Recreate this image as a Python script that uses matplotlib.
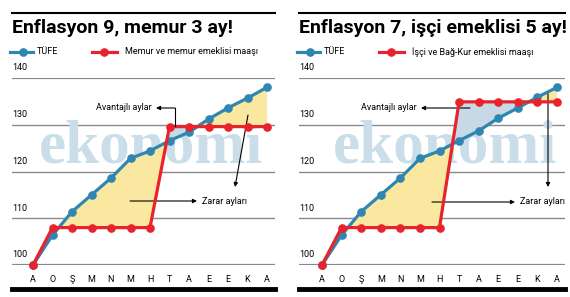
import numpy as np
import matplotlib.pyplot as plt

# aylar ve veriler
months = ['A', 'O', 'Ş', 'M', 'N', 'M', 'H', 'T', 'A', 'E', 'E', 'K', 'A']
tufe_left = [100, 106.4, 111.4, 115, 118.6, 122.8, 124.4, 126.6, 128.4, 131.2, 133.6, 135.7, 138.0]
memur = [100, 108, 108, 108, 108, 108, 108, 129.6, 129.6, 129.6, 129.6, 129.6, 129.6]
tufe_right = [100, 106.4, 111.4, 115, 118.6, 122.8, 124.4, 126.6, 128.7, 131.4, 133.6, 135.9, 138.0]
isci = [100, 108, 108, 108, 108, 108, 108, 134.9, 134.9, 134.9, 134.9, 134.9, 134.9]
yticks = [100, 110, 120, 130, 140]

titles = ['Enflasyon 9, memur 3 ay!', 'Enflasyon 7, işçi emeklisi 5 ay!']
legend_red = ['Memur ve memur emeklisi maaşı', 'İşçi ve Bağ-Kur emeklisi maaşı']

BLUE = '#2f86b0'
RED = '#e8232b'
YELLOW = '#fbe8a0'
LBLUE = '#c6d9e4'
WM = '#c9dee9'
FONT = ['Roboto', 'DejaVu Sans']

W, H = 570, 297
fig = plt.figure(figsize=(5.7, 2.97), dpi=100)


def px(x, y):
    return x / W, 1 - y / H


def arrow(p0, p1):
    fig.add_artist(plt.Line2D([0], [0], visible=False))
    ann = plt.annotate('', xy=px(*p1), xytext=px(*p0), xycoords='figure fraction',
                       textcoords='figure fraction',
                       arrowprops=dict(arrowstyle='-|>', color='black', lw=0.8,
                                       mutation_scale=6, shrinkA=0, shrinkB=0))
    return ann


def hline(xa, xb, y, **kw):
    fig.add_artist(plt.Line2D([px(xa, 0)[0], px(xb, 0)[0]], [px(0, y)[1]] * 2,
                              transform=fig.transFigure, **kw))


def panel(x0, x1, xa, xb, tufe, red, title, red_label, annots, wm_x):
    # axes spans gridline extent; y 100 at pixel 265, 140 at 78
    step = (xb - xa) / 12
    left, bottom = px(x0, 265)
    ax = fig.add_axes([left, bottom, (x1 - x0) / W, (265 - 78) / H])
    ax.set_xlim((x0 - xa) / step, (x1 - xa) / step)
    ax.set_ylim(100, 140)
    ax.axis('off')

    x = np.arange(len(months))
    tufe = np.array(tufe)
    red = np.array(red)

    for v in yticks:
        ax.axhline(v, color='#8a8a8a', lw=1.6 if v in (100, 140) else 1.0, zorder=0)
        ax.text(0, v + 1.2, str(v), transform=ax.get_yaxis_transform(),
                fontsize=6.5, family=FONT, va='bottom', ha='left')

    # watermark
    ax.text(wm_x, 0.63, 'ekonomi', transform=ax.transAxes, fontsize=44,
            family='Liberation Serif', fontweight='bold', color=WM,
            ha='center', va='center', zorder=0.5, clip_on=True)

    xf = np.linspace(0, 12, 1201)
    tf = np.interp(xf, x, tufe)
    rf = np.interp(xf, x, red)
    ax.fill_between(xf, rf, tf, where=tf >= rf, color=YELLOW, lw=0, zorder=1)
    ax.fill_between(xf, rf, tf, where=rf >= tf, color=LBLUE, lw=0, zorder=1)

    ax.plot(x, tufe, color=BLUE, lw=2.3, marker='o', ms=5.2, zorder=3, clip_on=False)
    ax.plot(x, red, color=RED, lw=2.3, marker='o', ms=5.2, zorder=4, clip_on=False)

    for i, m in enumerate(months):
        ax.text(i, -15 / 187, m, transform=ax.get_xaxis_transform(),
                fontsize=6.5, family=FONT, ha='center', va='center')

    # annotations in pixel space
    (tx, ty), (ex, ey), (sx, sy), (za, zb, zy) = annots
    fig.text(*px(tx, ty), 'Avantajlı aylar', fontsize=6.5, family=FONT,
             ha='right', va='center')
    fig.add_artist(plt.Line2D([px(ex, 0)[0]] * 2, [px(0, ey)[1], px(0, ty)[1]],
                              color='black', lw=0.8, transform=fig.transFigure))
    arrow((ex, ty), (tx + 4, ty))
    arrow(sx, sy)
    arrow((za, zy), (zb, zy))
    fig.text(*px(zb + 5, zy), 'Zarar ayları', fontsize=6.5, family=FONT,
             ha='left', va='center')

    # frame lines, title, legend
    hline(x0, x1, 13, color='black', lw=1.5)
    hline(x0, x1, 289, color='black', lw=3.5)
    fig.text(*px(x0, 28), title, fontsize=14, fontweight='bold', family=FONT,
             ha='left', va='center')
    ly = px(0, 52)[1]
    hline(x0 - 2, x0 + 21, 52, color=BLUE, lw=2.3)
    fig.add_artist(plt.Line2D([px(x0 + 11, 0)[0]], [ly], color=BLUE, marker='o', ms=5.2,
                              transform=fig.transFigure))
    fig.text(px(x0 + 25, 0)[0], ly, 'TÜFE', fontsize=6.5, family=FONT, va='center')
    hline(x0 + 80, x0 + 105, 52, color=RED, lw=2.3)
    fig.add_artist(plt.Line2D([px(x0 + 92, 0)[0]], [ly], color=RED, marker='o', ms=5.2,
                              transform=fig.transFigure))
    fig.text(px(x0 + 113, 0)[0], ly, red_label, fontsize=6.5, family=FONT, va='center')
    return ax


ax1 = panel(12, 275, 33, 267, tufe_left, memur, titles[0], legend_red[0],
            ((152, 108), (175, 126), ((248, 115), (235, 187)), (130, 197, 201)), 0.53)
ax2 = panel(299, 565, 322, 557, tufe_right, isci, titles[1], legend_red[1],
            ((417, 108), (470, 108), ((548, 94), (548, 187)), (432, 515, 202)), 0.55)

fig.savefig('out.png', dpi=100)
